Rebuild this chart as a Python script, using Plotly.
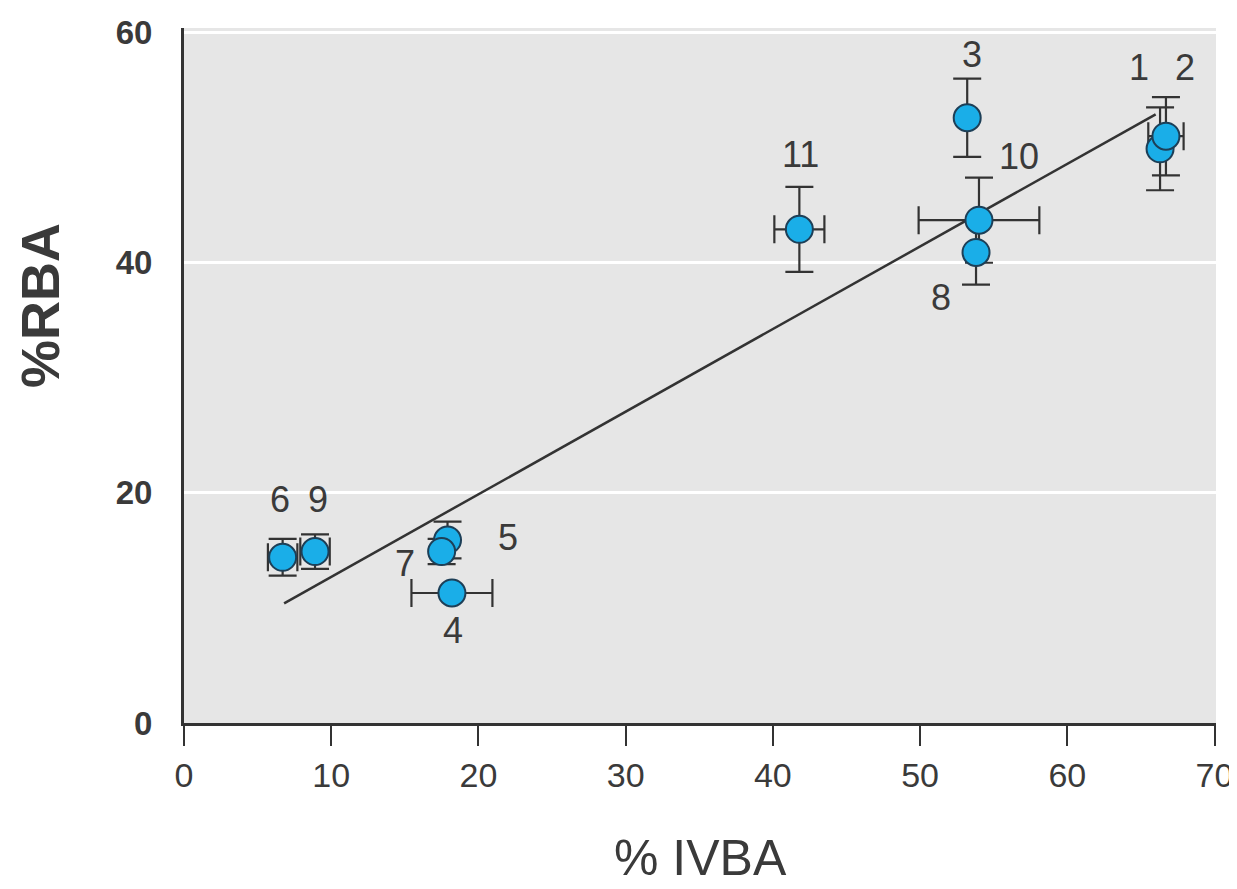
import plotly.graph_objects as go

# Data
ids = ["1", "2", "3", "4", "5", "6", "7", "8", "9", "10", "11"]
ivba = [66.3, 66.7, 53.2, 18.2, 17.9, 6.7, 17.5, 53.8, 8.9, 54.0, 41.8]
rba = [49.9, 51.0, 52.6, 11.3, 15.9, 14.4, 14.9, 40.9, 14.9, 43.7, 42.9]
ivba_err = [0.0, 1.2, 0.0, 2.75, 0.0, 1.0, 0.0, 0.0, 1.0, 4.1, 1.7]
rba_err = [3.6, 3.4, 3.4, 0.0, 1.6, 1.6, 1.1, 2.8, 1.5, 3.7, 3.7]

# label positions (data coords)
label_x = [64.9, 68.0, 53.5, 18.3, 22.0, 6.5, 15.0, 51.4, 9.1, 56.7, 41.9]
label_y = [57.0, 57.0, 58.1, 8.0, 16.1, 19.4, 13.9, 37.0, 19.4, 49.2, 49.4]

# regression line endpoints
fit_x = [6.8, 66.0]
fit_y = [10.4, 52.9]

x_ticks = [0, 10, 20, 30, 40, 50, 60, 70]
y_ticks = [0, 20, 40, 60]

dark = "#333333"
txt = "#3a3a3a"
sans = "Liberation Sans, Arial, sans-serif"

fig = go.Figure()

fig.add_trace(go.Scatter(
    x=fit_x, y=fit_y, mode="lines",
    line=dict(color=dark, width=2.5), hoverinfo="skip", showlegend=False))

fig.add_trace(go.Scatter(
    x=ivba, y=rba, mode="markers",
    marker=dict(size=27, color="#1aaee8", line=dict(color="#1d3f57", width=2)),
    error_x=dict(type="data", array=ivba_err, visible=True, color=dark, thickness=2.2, width=14),
    error_y=dict(type="data", array=rba_err, visible=True, color=dark, thickness=2.2, width=14),
    showlegend=False))

for lx, ly, t in zip(label_x, label_y, ids):
    fig.add_annotation(x=lx, y=ly, text=t, showarrow=False,
                       font=dict(family=sans, size=36, color=txt),
                       xanchor="center", yanchor="middle")

fig.add_annotation(xref="paper", yref="paper", x=0.5, y=0, yshift=-135,
                   text="% IVBA", showarrow=False,
                   font=dict(family=sans, size=50, color=txt),
                   xanchor="center", yanchor="middle")
fig.add_annotation(xref="paper", yref="paper", x=0, y=0.60, xshift=-144,
                   text="<b>%RBA</b>", showarrow=False, textangle=-90,
                   font=dict(family=sans, size=54, color=txt),
                   xanchor="center", yanchor="middle")

fig.update_layout(
    width=1229, height=881,
    margin=dict(l=176, r=21, t=20, b=166),
    paper_bgcolor="white", plot_bgcolor="#e6e6e6",
    xaxis=dict(range=[0, 70.1], tickvals=x_ticks, ticktext=[str(v) for v in x_ticks],
               showgrid=False, zeroline=False, showline=True, linecolor=dark, linewidth=3,
               ticks="outside", ticklen=20, tickwidth=2, tickcolor=dark, automargin=False,
               tickfont=dict(family=sans, size=34, color=txt)),
    yaxis=dict(range=[0, 60.4], tickvals=y_ticks, ticktext=["<b>%d</b>" % v for v in y_ticks],
               showgrid=True, gridcolor="white", gridwidth=3, zeroline=False, automargin=False,
               showline=True, linecolor=dark, linewidth=3, ticks="", ticklabelstandoff=22,
               tickfont=dict(family=sans, size=33, color=txt)),
)

fig.write_html("out.html")
